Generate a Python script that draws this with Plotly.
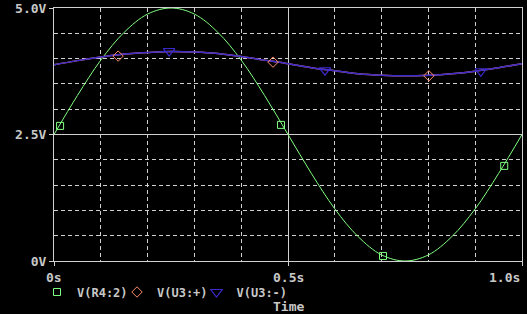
import plotly.graph_objects as go

# Time axis (s) and series values
t = [0.00, 0.05, 0.10, 0.15, 0.20, 0.25, 0.30, 0.35, 0.40, 0.45, 0.50,
     0.55, 0.60, 0.65, 0.70, 0.75, 0.80, 0.85, 0.90, 0.95, 1.00]
v_r4 = [2.50, 3.27, 3.97, 4.52, 4.88, 5.00, 4.88, 4.52, 3.97, 3.27, 2.50,
        1.73, 1.03, 0.48, 0.12, 0.00, 0.12, 0.48, 1.03, 1.73, 2.50]
v_u3p = [3.88, 3.96, 4.03, 4.09, 4.12, 4.14, 4.13, 4.10, 4.04, 3.97, 3.90,
         3.82, 3.76, 3.70, 3.67, 3.66, 3.67, 3.70, 3.75, 3.82, 3.90]
v_u3m = [3.88, 3.96, 4.03, 4.09, 4.12, 4.14, 4.13, 4.10, 4.04, 3.97, 3.90,
         3.82, 3.76, 3.70, 3.67, 3.66, 3.67, 3.70, 3.75, 3.82, 3.90]

# marker points
mk_r4_t = [0.013, 0.485, 0.703, 0.962]
mk_r4_v = [2.67, 2.69, 0.10, 1.88]
mk_u3p_t = [0.137, 0.468, 0.801]
mk_u3p_v = [4.05, 3.93, 3.66]
mk_u3m_t = [0.246, 0.579, 0.912]
mk_u3m_v = [4.15, 3.77, 3.75]

x_tick_vals = [0, 0.5, 1.0]
x_tick_text = ["0s", "0.5s", "1.0s"]
y_tick_vals = [0, 2.5, 5.0]
y_tick_text = ["0V", "2.5V", "5.0V"]

GREEN = "#80ff80"
RED = "#ff8a6a"
BLUE = "#3a2acc"
GRID = "#d0d0d0"
TXT = "#c8c8c8"
FONT = "DejaVu Sans Mono"
FS = 13

fig = go.Figure()
fig.add_trace(go.Scatter(x=t, y=v_r4, mode="lines", line=dict(color=GREEN, width=1, shape="spline"),
                         showlegend=False, hoverinfo="skip"))
fig.add_trace(go.Scatter(x=t, y=v_u3p, mode="lines", line=dict(color=RED, width=1.5, shape="spline"),
                         showlegend=False, hoverinfo="skip"))
fig.add_trace(go.Scatter(x=t, y=v_u3m, mode="lines", line=dict(color=BLUE, width=1.5, shape="spline"),
                         showlegend=False, hoverinfo="skip"))
fig.add_trace(go.Scatter(x=mk_r4_t, y=mk_r4_v, mode="markers", name="<b>V(R4:2)</b>", legend="legend",
                         marker=dict(symbol="square-open", size=7, color=GREEN, line=dict(width=1)),
                         cliponaxis=False))
fig.add_trace(go.Scatter(x=mk_u3p_t, y=mk_u3p_v, mode="markers", name="<b>V(U3:+)</b>", legend="legend2",
                         marker=dict(symbol="diamond-open", size=8, color=RED, line=dict(width=1)),
                         cliponaxis=False))
fig.add_trace(go.Scatter(x=mk_u3m_t, y=mk_u3m_v, mode="markers", name="<b>V(U3:-)</b>", legend="legend3",
                         marker=dict(symbol="triangle-down-open", size=10, color=BLUE, line=dict(width=1.2)),
                         cliponaxis=False))

PW = 468.0
LY = -0.1225
def leg(xpx):
    return dict(orientation="h", x=xpx / PW, xanchor="left", y=LY, yanchor="middle",
                bgcolor="rgba(0,0,0,0)", itemwidth=30, font=dict(size=12, color=TXT),
                itemclick=False, itemdoubleclick=False)

fig.update_layout(
    width=527, height=314,
    margin=dict(l=54, r=5, t=8, b=53, autoexpand=False),
    paper_bgcolor="black", plot_bgcolor="black",
    font=dict(family=FONT, size=FS, color=TXT),
    showlegend=True,
    legend=leg(-17),
    legend2=leg(-17 + 80),
    legend3=leg(-17 + 159.5),
    xaxis=dict(range=[0, 1], tickvals=x_tick_vals, ticktext=["", "", ""],
               showgrid=True, gridcolor=GRID, gridwidth=1,
               minor=dict(dtick=0.1, showgrid=True, gridcolor=GRID, griddash="4px,3px", gridwidth=1),
               showline=True, linecolor=GRID, mirror=True, ticks="outside", ticklen=4, tickcolor=GRID,
               zeroline=False, fixedrange=True),
    yaxis=dict(range=[0, 5], tickvals=y_tick_vals, ticktext=["<b>%s</b>" % s for s in y_tick_text],
               showgrid=True, gridcolor=GRID, gridwidth=1,
               minor=dict(dtick=0.5, showgrid=True, gridcolor=GRID, griddash="4px,3px", gridwidth=1),
               showline=True, linecolor=GRID, mirror=True, ticks="outside", ticklen=4, tickcolor=GRID,
               zeroline=False, fixedrange=True, tickfont=dict(size=FS, color=TXT)),
)

anchors = ["center", "center", "right"]
for v, s, a in zip(x_tick_vals, x_tick_text, anchors):
    fig.add_annotation(x=v, y=0, xref="x", yref="paper", text="<b>%s</b>" % s, showarrow=False,
                       xanchor=a, yanchor="top", yshift=-7, font=dict(size=FS, color=TXT))
fig.add_annotation(x=0.5, y=0, xref="x", yref="paper", text="<b>Time</b>", showarrow=False,
                   xanchor="center", yanchor="top", yshift=-36, font=dict(size=FS, color=TXT))

fig.write_html("out.html")
